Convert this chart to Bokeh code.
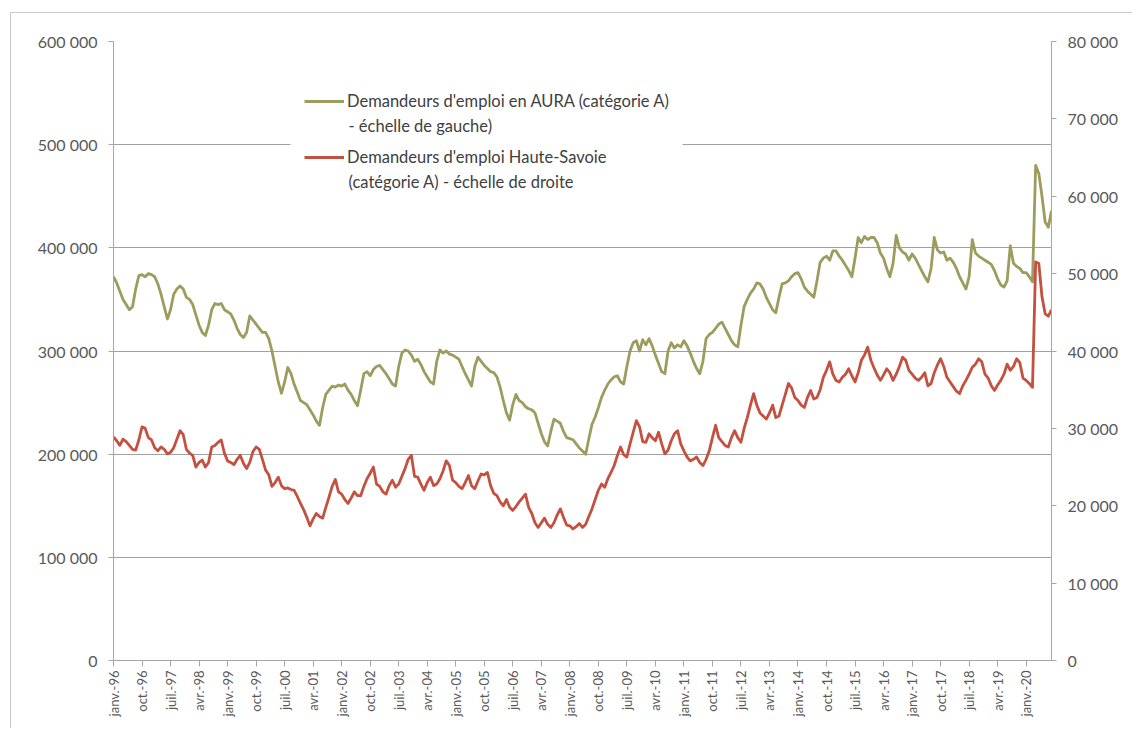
import math
from bokeh.plotting import figure
from bokeh.models import (Range1d, LinearAxis, FixedTicker, Legend, LegendItem, Label,
                          BoxAnnotation)
from bokeh.embed import file_html
from bokeh.resources import INLINE

# Monthly job seekers, category A, janv. 1996 -> sept. 2020 (values in thousands)
aura_k = [
    372, 366, 358, 350, 345, 340, 343, 360, 373, 374, 372, 375,   # 1996
    374, 372, 365, 355, 343, 331, 340, 355, 360, 363, 360, 352,   # 1997
    350, 345, 335, 325, 318, 315, 325, 340, 346, 345, 346, 340,   # 1998
    338, 336, 330, 322, 316, 313, 318, 334, 330, 326, 322, 318,   # 1999
    318, 312, 300, 285, 270, 259, 270, 284, 278, 268, 260, 252,   # 2000
    250, 248, 243, 238, 232, 228, 245, 258, 262, 266, 265, 267,   # 2001
    266, 268, 262, 258, 252, 247, 262, 278, 280, 276, 282, 285,   # 2002
    286, 282, 278, 273, 268, 266, 285, 298, 301, 300, 296, 290,   # 2003
    292, 287, 280, 275, 270, 268, 290, 301, 298, 300, 297, 296,   # 2004
    294, 292, 285, 278, 272, 266, 285, 294, 290, 286, 283, 280,   # 2005
    279, 275, 265, 252, 240, 233, 248, 258, 252, 250, 246, 244,   # 2006
    243, 240, 230, 220, 212, 208, 222, 234, 232, 230, 222, 216,   # 2007
    215, 214, 210, 206, 203, 200, 215, 229, 236, 245, 255, 262,   # 2008
    268, 272, 275, 276, 270, 268, 285, 300, 308, 310, 300, 311,   # 2009
    306, 312, 305, 296, 288, 280, 278, 300, 308, 303, 306, 304,   # 2010
    310, 305, 298, 290, 283, 278, 290, 312, 316, 318, 322, 326,   # 2011
    328, 322, 316, 310, 306, 304, 325, 343, 350, 356, 360, 366,   # 2012
    365, 360, 352, 346, 340, 337, 352, 365, 366, 368, 372, 375,   # 2013
    376, 370, 362, 358, 355, 352, 368, 386, 390, 392, 388, 397,   # 2014
    397, 392, 388, 383, 378, 372, 390, 410, 405, 411, 408, 410,   # 2015
    410, 405, 395, 390, 380, 372, 385, 412, 400, 396, 394, 388,   # 2016
    394, 390, 384, 378, 372, 367, 380, 410, 398, 395, 396, 388,   # 2017
    390, 386, 380, 372, 366, 360, 372, 408, 395, 392, 390, 388,   # 2018
    386, 384, 378, 370, 364, 362, 368, 402, 385, 382, 380, 376,   # 2019
    376, 372, 367, 480, 472, 450, 425, 420, 436,                  # 2020
]

haute_savoie_k = [
    28.9, 28.4, 27.8, 28.6, 28.3, 27.8, 27.3, 27.2, 28.5, 30.2, 30.0, 28.8,   # 1996
    28.5, 27.5, 27.1, 27.6, 27.3, 26.7, 26.9, 27.5, 28.6, 29.7, 29.2, 27.3,   # 1997
    26.8, 26.5, 25.0, 25.6, 25.9, 25.0, 25.6, 27.6, 27.8, 28.2, 28.5, 26.8,   # 1998
    25.8, 25.6, 25.3, 26.0, 26.5, 25.5, 24.8, 25.6, 27.0, 27.6, 27.3, 26.0,   # 1999
    24.6, 24.0, 22.5, 23.0, 23.7, 22.6, 22.2, 22.3, 22.1, 22.0, 21.2, 20.3,   # 2000
    19.5, 18.5, 17.4, 18.3, 19.0, 18.6, 18.4, 19.8, 21.1, 22.5, 23.4, 21.8,   # 2001
    21.5, 20.8, 20.3, 21.0, 21.8, 21.3, 21.3, 22.5, 23.5, 24.2, 25.0, 22.8,   # 2002
    22.5, 21.8, 21.5, 22.6, 23.3, 22.4, 22.8, 23.8, 24.8, 26.0, 26.5, 23.8,   # 2003
    23.7, 22.8, 22.0, 23.0, 23.7, 22.6, 22.8, 23.5, 24.5, 25.8, 25.2, 23.3,   # 2004
    23.0, 22.5, 22.2, 23.0, 23.9, 22.6, 22.2, 23.2, 24.1, 24.0, 24.3, 22.6,   # 2005
    21.6, 21.3, 20.5, 20.0, 20.8, 19.8, 19.4, 19.9, 20.5, 21.0, 21.5, 19.8,   # 2006
    19.0, 17.8, 17.2, 17.8, 18.4, 17.6, 17.2, 17.8, 18.8, 19.6, 18.5, 17.5,   # 2007
    17.4, 17.0, 17.3, 17.7, 17.2, 17.6, 18.6, 19.6, 20.8, 22.0, 22.8, 22.4,   # 2008
    23.5, 24.3, 25.2, 26.5, 27.6, 26.6, 26.3, 28.0, 29.5, 31.0, 30.2, 28.3,   # 2009
    28.2, 29.3, 28.8, 28.4, 29.5, 28.0, 26.7, 27.2, 28.4, 29.3, 29.7, 28.0,   # 2010
    27.1, 26.3, 25.8, 26.0, 26.3, 25.6, 25.2, 26.0, 27.1, 28.8, 30.4, 28.8,   # 2011
    28.3, 27.8, 27.6, 28.8, 29.7, 28.8, 28.2, 30.0, 31.4, 33.0, 34.5, 33.0,   # 2012
    32.0, 31.6, 31.2, 32.0, 33.0, 31.4, 31.6, 33.0, 34.4, 35.8, 35.2, 34.0,   # 2013
    33.6, 33.0, 32.7, 34.0, 34.9, 33.8, 34.0, 35.0, 36.6, 37.5, 38.6, 37.0,   # 2014
    36.2, 36.0, 36.6, 37.0, 37.7, 36.8, 36.0, 37.2, 38.8, 39.5, 40.5, 38.8,   # 2015
    37.8, 36.9, 36.2, 36.9, 37.7, 37.2, 36.2, 37.0, 38.0, 39.2, 38.8, 37.5,   # 2016
    37.0, 36.5, 36.2, 36.6, 37.2, 35.5, 35.8, 37.2, 38.2, 39.0, 38.0, 36.6,   # 2017
    36.0, 35.4, 34.8, 34.5, 35.5, 36.2, 37.0, 37.9, 38.3, 39.0, 38.6, 37.0,   # 2018
    36.5, 35.5, 34.9, 35.6, 36.2, 37.0, 38.3, 37.5, 38.0, 39.0, 38.5, 36.5,   # 2019
    36.2, 35.8, 35.3, 51.5, 51.3, 47.0, 44.8, 44.5, 45.3,                     # 2020
]

# Category labels shown every 9 months, starting janv.-96
tick_labels = [
    "janv.-96", "oct.-96", "juil.-97", "avr.-98", "janv.-99", "oct.-99",
    "juil.-00", "avr.-01", "janv.-02", "oct.-02", "juil.-03", "avr.-04",
    "janv.-05", "oct.-05", "juil.-06", "avr.-07", "janv.-08", "oct.-08",
    "juil.-09", "avr.-10", "janv.-11", "oct.-11", "juil.-12", "avr.-13",
    "janv.-14", "oct.-14", "juil.-15", "avr.-16", "janv.-17", "oct.-17",
    "juil.-18", "avr.-19", "janv.-20",
]
label_step = 9

left_ticks = [0, 100000, 200000, 300000, 400000, 500000, 600000]
right_ticks = [0, 10000, 20000, 30000, 40000, 50000, 60000, 70000, 80000]

# legend text: first line next to the swatch, second line below it
legend_first = ["Demandeurs d'emploi en AURA (catégorie A)",
                "Demandeurs d'emploi Haute-Savoie"]
legend_second = ["- échelle de gauche)",
                 "(catégorie A) - échelle de droite"]

months = list(range(len(aura_k)))
aura = [v * 1000 for v in aura_k]
haute_savoie = [v * 1000 for v in haute_savoie_k]


def fr_thousands(v):
    return f"{v:,}".replace(",", " ")


FONT = "Lato"
TEXT = "#595959"
AXIS_LINE = "#a6a6a6"
LEGEND_TEXT = "#404040"
LEGEND_SIZE = "16.5px"

p = figure(
    width=1122, height=716,
    output_backend="svg", toolbar_location=None,
    x_range=Range1d(0, len(months) - 1),
    y_range=Range1d(left_ticks[0], left_ticks[-1]),
    min_border_left=102, min_border_right=82,
    min_border_top=28, min_border_bottom=69,
    background_fill_color="white", border_fill_color="white",
)
# chart-area frame (top and left edges inside the window)
p.margin = (12, 0, 0, 10)
p.styles = {"border-top": "1px solid #c9c9c9", "border-left": "1px solid #c9c9c9"}
p.outline_line_color = None
p.extra_y_ranges = {"right": Range1d(right_ticks[0], right_ticks[-1])}

# horizontal gridlines from the left scale
p.xgrid.visible = False
p.ygrid.ticker = FixedTicker(ticks=left_ticks)
p.ygrid.grid_line_color = "#a0a0a0"
p.ygrid.grid_line_width = 1

# bottom category axis
xa = p.xaxis[0]
xa.ticker = FixedTicker(ticks=[i * label_step for i in range(len(tick_labels))])
xa.major_label_overrides = {i * label_step: lab for i, lab in enumerate(tick_labels)}
xa.major_label_orientation = math.pi / 2
xa.minor_tick_line_color = None
xa.major_tick_out = 6
xa.major_tick_in = 0
xa.major_label_standoff = 4
xa.major_label_text_font_size = "13px"

# left axis
ya = p.yaxis[0]
ya.ticker = FixedTicker(ticks=left_ticks)
ya.major_label_overrides = {t: fr_thousands(t) for t in left_ticks}
ya.minor_tick_line_color = None
ya.major_tick_out = 5
ya.major_tick_in = 0
ya.major_label_standoff = 11
ya.major_label_text_font_size = "16px"

# right axis
ra = LinearAxis(y_range_name="right", ticker=FixedTicker(ticks=right_ticks))
ra.major_label_overrides = {t: fr_thousands(t) for t in right_ticks}
ra.minor_tick_line_color = None
ra.major_tick_out = 5
ra.major_tick_in = 0
ra.major_label_standoff = 11
ra.major_label_text_font_size = "16px"
p.add_layout(ra, "right")

for ax in (xa, ya, ra):
    ax.axis_line_color = AXIS_LINE
    ax.major_tick_line_color = AXIS_LINE
    ax.major_label_text_font = FONT
    ax.major_label_text_color = TEXT

r_aura = p.line(months, aura, line_color="#9d9c5e", line_width=2.8, line_join="round")
r_hs = p.line(months, haute_savoie, line_color="#c4503f", line_width=2.8,
              line_join="round", y_range_name="right")

# white panel behind the legend (masks the gridline it sits on)
p.add_layout(BoxAnnotation(
    left=177, right=569, top=581, bottom=470,
    left_units="screen", right_units="screen", top_units="screen", bottom_units="screen",
    fill_color="white", fill_alpha=1.0, line_color=None,
))

# continuation lines of the two legend entries
for text, sy in zip(legend_second, (535, 479)):
    p.add_layout(Label(
        x=235, y=sy, x_units="screen", y_units="screen", text=text,
        text_font=FONT, text_font_size=LEGEND_SIZE, text_color=LEGEND_TEXT,
        text_baseline="middle", text_align="left",
    ))

legend = Legend(
    items=[LegendItem(label=legend_first[0], renderers=[r_aura]),
           LegendItem(label=legend_first[1], renderers=[r_hs])],
    location=(191, 491),
    background_fill_alpha=0.0,
    border_line_color=None,
    label_text_font=FONT, label_text_font_size=LEGEND_SIZE,
    label_text_color=LEGEND_TEXT,
    glyph_width=40, glyph_height=24, label_height=24, label_standoff=3,
    spacing=32, padding=10, margin=0,
)
p.add_layout(legend, "center")

open("out.html", "w").write(file_html(p, INLINE))
